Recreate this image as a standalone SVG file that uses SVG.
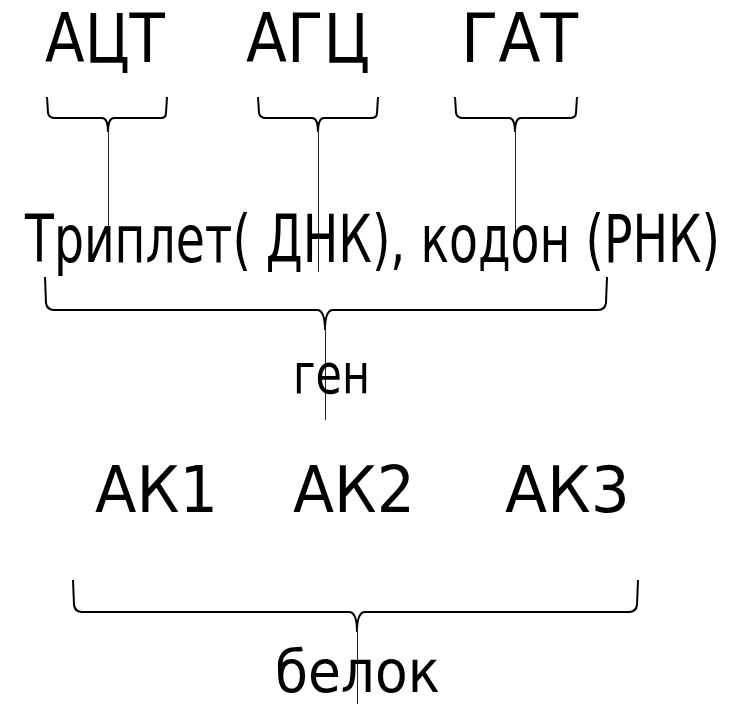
<svg xmlns="http://www.w3.org/2000/svg" width="744" height="704" viewBox="0 0 744 704">
<style>
text{font-family:"DejaVu Sans",Verdana,sans-serif;fill:#000}
.brace{fill:none;stroke:#000;stroke-width:2}
.stem{fill:none;stroke:#222;stroke-width:1}
</style>
<rect width="744" height="704" fill="#fff"/>
<g id="connectors">
<path class="brace" d="M47,97 L48,113 Q49,118 55,118 L102,118 Q108,118 108,132 Q108,118 114,118 L161,118 Q166,118 166,113 L167,97"/>
<path class="stem" d="M108.5,128 L108.5,232"/>
<path class="brace" d="M258,97 L259,113 Q260,118 266,118 L312,118 Q318,118 318,132 Q318,118 324,118 L371,118 Q377,118 377,113 L378,97"/>
<path class="stem" d="M318.5,128 L318.5,272"/>
<path class="brace" d="M455,97 L456,113 Q457,118 463,118 L509,118 Q515,118 515,132 Q515,118 521,118 L569,118 Q576,118 576,113 L577,97"/>
<path class="stem" d="M515.5,128 L515.5,248"/>
<path class="brace" d="M45,277 L46,303 Q47,310 54,310 L317,310 Q325,310 325,330 Q325,310 333,310 L598,310 Q605,310 606,303 L607,277"/>
<path class="stem" d="M325.5,325 L325.5,420"/>
<path class="brace" d="M73,580 L74,605 Q75,612 82,612 L349,612 Q357,612 357,632 Q357,612 365,612 L629,612 Q636,612 637,605 L638,580"/>
<path class="stem" d="M357.5,627 L357.5,704"/>
</g>
<g id="codon1"><text x="45" y="62" font-size="67" textLength="120" lengthAdjust="spacingAndGlyphs">АЦТ</text></g>
<g id="codon2"><text x="246" y="62" font-size="67" textLength="124" lengthAdjust="spacingAndGlyphs">АГЦ</text></g>
<g id="codon3"><text x="461" y="62" font-size="67" textLength="117" lengthAdjust="spacingAndGlyphs">ГАТ</text></g>
<g id="triplet"><text x="25" y="262" font-size="66" textLength="695" lengthAdjust="spacingAndGlyphs">Триплет( ДНК), кодон (РНК)</text></g>
<g id="gene"><text x="293" y="393" font-size="55" textLength="77" lengthAdjust="spacingAndGlyphs">ген</text></g>
<g id="ak1"><text x="95" y="512" font-size="64" textLength="123" lengthAdjust="spacingAndGlyphs">АК1</text></g>
<g id="ak2"><text x="293" y="512" font-size="64" textLength="122" lengthAdjust="spacingAndGlyphs">АК2</text></g>
<g id="ak3"><text x="505" y="512" font-size="64" textLength="125" lengthAdjust="spacingAndGlyphs">АК3</text></g>
<g id="protein"><text x="275" y="692" font-size="58" textLength="165" lengthAdjust="spacingAndGlyphs">белок</text></g>
</svg>
